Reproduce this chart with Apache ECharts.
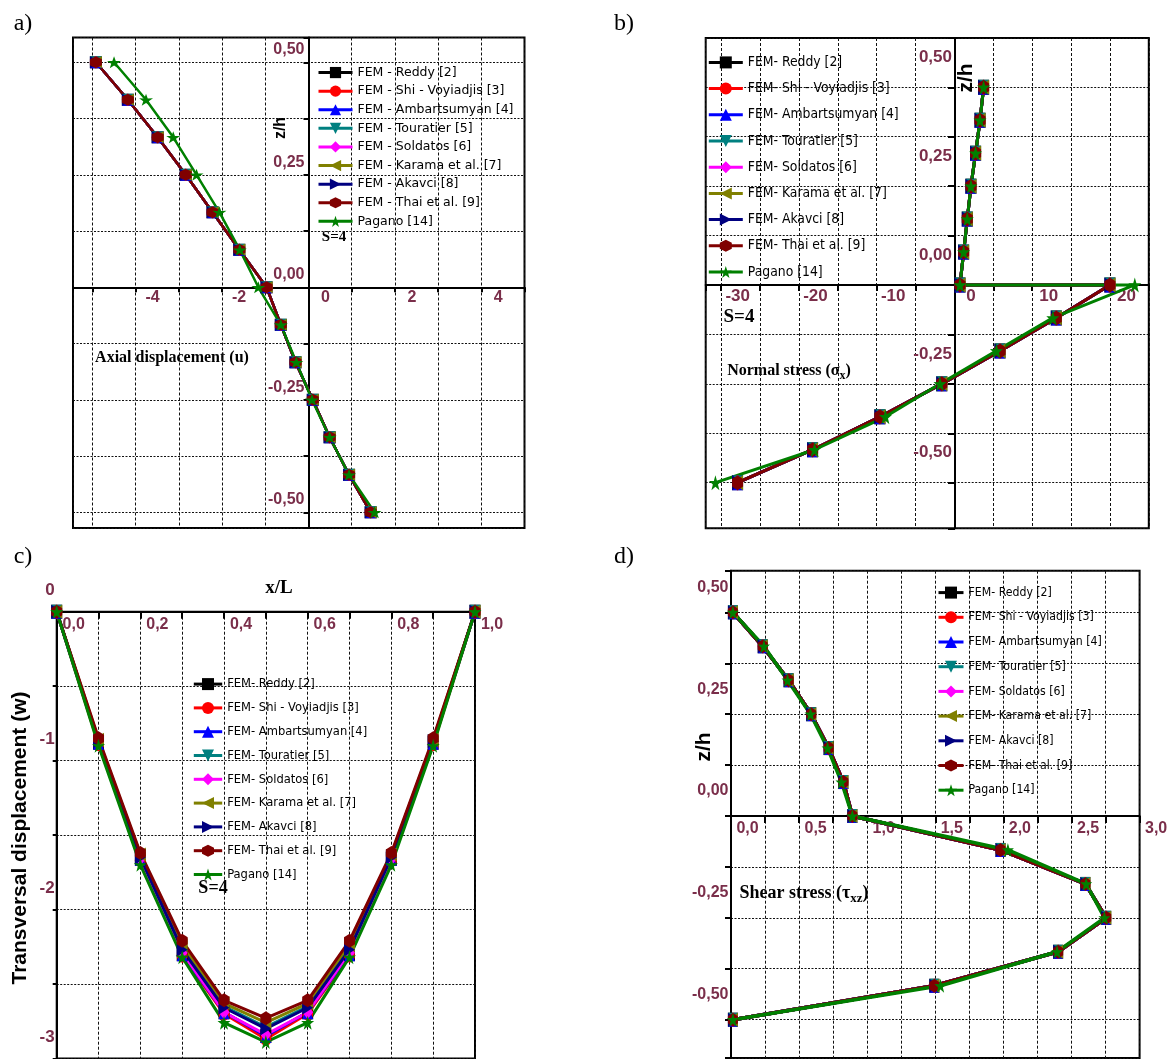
<!DOCTYPE html>
<html><head><meta charset="utf-8">
<script src="https://cdn.jsdelivr.net/npm/echarts@6/dist/echarts.min.js"></script>
<style>html,body{margin:0;padding:0;background:#fff}#c{width:1171px;height:1059px}</style>
</head><body><div id="c"></div>
<script>
// ---------------- data ----------------
const seriesNames = ['FEM - Reddy [2]', 'FEM - Shi - Voyiadjis [3]', 'FEM - Ambartsumyan [4]', 'FEM - Touratier [5]',
  'FEM - Soldatos [6]', 'FEM - Karama et al. [7]', 'FEM - Akavci [8]', 'FEM - Thai et al. [9]', 'Pagano [14]'];

// through-thickness positions z/h
const zLevels = [0.5, 0.4167, 0.3333, 0.25, 0.1667, 0.0833, 0, -0.0833, -0.1667, -0.25, -0.3333, -0.4167, -0.5];
const zLevelsB = [0.5, 0.4167, 0.3333, 0.25, 0.1667, 0.0833, 0, 0, -0.0833, -0.1667, -0.25, -0.3333, -0.4167, -0.5];

// a) axial displacement u
const uFEM    = [-4.92, -4.18, -3.49, -2.84, -2.22, -1.60, -0.97, -0.64, -0.30, 0.10, 0.49, 0.94, 1.44];
const uPagano = [-4.50, -3.76, -3.13, -2.59, -2.06, -1.59, -1.16, -0.64, -0.28, 0.08, 0.49, 0.94, 1.53];

// b) normal stress sigma_x
const sxFEM    = [3.75, 3.29, 2.72, 2.12, 1.65, 1.18, 0.71, 20.0, 13.1, 5.86, -1.63, -9.59, -18.25, -27.9];
const sxPagano = [3.75, 3.29, 2.72, 2.12, 1.65, 1.18, 0.71, 23.2, 12.65, 5.4, -1.86, -8.88, -18.0, -30.75];

// c) transversal displacement w along x/L
const xL = [0, 0.1, 0.2, 0.3, 0.4, 0.5, 0.6, 0.7, 0.8, 0.9, 1.0];
const wReddy    = [0, -0.88, -1.66, -2.30, -2.69, -2.85, -2.69, -2.30, -1.66, -0.88, 0];
const wShi      = [0, -0.89, -1.67, -2.31, -2.70, -2.87, -2.70, -2.31, -1.67, -0.89, 0];
const wAmbarts  = [0, -0.88, -1.66, -2.30, -2.69, -2.85, -2.69, -2.30, -1.66, -0.88, 0];
const wTouratier= [0, -0.87, -1.64, -2.26, -2.65, -2.79, -2.65, -2.26, -1.64, -0.87, 0];
const wSoldatos = [0, -0.88, -1.66, -2.29, -2.69, -2.84, -2.69, -2.29, -1.66, -0.88, 0];
const wKarama   = [0, -0.86, -1.63, -2.24, -2.63, -2.76, -2.63, -2.24, -1.63, -0.86, 0];
const wAkavci   = [0, -0.87, -1.65, -2.27, -2.66, -2.80, -2.66, -2.27, -1.65, -0.87, 0];
const wThai     = [0, -0.85, -1.62, -2.21, -2.61, -2.73, -2.61, -2.21, -1.62, -0.85, 0];
const wPagano   = [0, -0.90, -1.70, -2.32, -2.76, -2.89, -2.76, -2.32, -1.70, -0.90, 0];

// d) shear stress tau_xz
const txzFEM    = [0.014, 0.233, 0.423, 0.589, 0.717, 0.825, 0.891, 1.979, 2.602, 2.755, 2.402, 1.493, 0.014];
const txzPagano = [0.014, 0.242, 0.415, 0.584, 0.709, 0.811, 0.891, 2.033, 2.608, 2.742, 2.394, 1.538, 0.014];

// ---------------- styles ----------------
const colors = ['#000000', '#ff0000', '#0000ff', '#008080', '#ff00ff', '#808000', '#000080', '#800000', '#008000'];
const STAR = 'path://M50,0 L61.8,35.1 L98.1,34.5 L68.9,56.2 L79.4,90.5 L50,69.5 L20.6,90.5 L31.1,56.2 L1.9,34.5 L38.2,35.1 Z';
const symbols = ['rect', 'circle', 'triangle', 'path://M0,0 L10,0 L5,10 Z', 'diamond',
  'path://M0,5 L10,0 L10,10 Z', 'path://M10,5 L0,0 L0,10 Z',
  'path://M5,0 L9.33,2.5 L9.33,7.5 L5,10 L0.67,7.5 L0.67,2.5 Z', STAR];
const MAROON = '#7a2e4a';
const SANS = "'Liberation Sans', Arial, sans-serif";
const COND = "'DejaVu Sans Condensed', 'Liberation Sans', sans-serif";
const SERIF = "'Liberation Serif', 'Times New Roman', serif";
const DEJAVU = "'DejaVu Sans', Verdana, sans-serif";

const chart = echarts.init(document.getElementById('c'), null, {renderer: 'canvas'});

function near(v, step) { return Math.abs(v / step - Math.round(v / step)) < 1e-6; }
function wrap(s) { return s === '' ? '' : '{p|' + s + '}'; }
function zFmt(v8) { // v8 = z*8
  if (!near(v8, 2)) return '';
  return wrap((Math.round(v8) / 8).toFixed(2).replace('.', ','));
}
const vGrid = {show: true, lineStyle: {color: '#111', width: 1, type: [3, 2]}};
const hGrid = {show: true, lineStyle: {color: '#111', width: 1, type: [2, 1.5]}};
function axLine() { return {show: true, onZero: false, lineStyle: {color: '#000', width: 2}}; }
function tick(len, inside) { return {show: true, length: len, inside: !!inside, lineStyle: {color: '#000', width: 2}}; }
function lab(size, pad, extra) {
  const st = {color: MAROON, fontFamily: SANS, fontWeight: 'bold', fontSize: size};
  return Object.assign({}, st, {rich: {p: Object.assign({}, st, {padding: pad})}}, extra);
}

const grids = [
  {left: 73, top: 37.5, width: 451.5, height: 490.5},
  {left: 705.7, top: 38, width: 443.1, height: 490.3},
  {left: 56.7, top: 611.7, width: 418.3, height: 446.7},
  {left: 731, top: 570.7, width: 408.6, height: 487.3}
].map(g => Object.assign(g, {show: true, borderColor: '#000', borderWidth: 2, backgroundColor: 'transparent', containLabel: false, outerBoundsMode: 'none'}));

const xAxes = [
  {gridIndex: 0, type: 'value', min: -5.45, max: 5, splitNumber: 10, offset: -240.7, axisLine: axLine(), axisTick: tick(5), splitLine: vGrid,
   axisLabel: lab(16, [0, 0, 0, 34], {margin: 2, formatter: v => near(v, 2) ? wrap(String(Math.round(v))) : ''})},
  {gridIndex: 1, type: 'value', min: -32, max: 25, splitNumber: 11, offset: -243.3, axisLine: axLine(), axisTick: tick(6), splitLine: vGrid,
   axisLabel: lab(17, [0, 0, 0, 33], {margin: 3, formatter: v => near(v, 10) ? wrap(String(Math.round(v))) : ''})},
  {gridIndex: 2, type: 'value', position: 'top', min: 0, max: 1, interval: 0.1, axisLine: axLine(),
   axisTick: tick(7, true), splitLine: vGrid,
   axisLabel: lab(16, [0, 0, 0, 34], {inside: true, margin: 5, formatter: v => near(v, 0.2) ? wrap(v.toFixed(1).replace('.', ',')) : ''})},
  {gridIndex: 3, type: 'value', min: 0, max: 3, interval: 0.25, offset: -242, axisLine: axLine(), axisTick: tick(7), splitLine: vGrid,
   axisLabel: lab(16, [0, 0, 0, 33], {margin: 5, formatter: v => near(v, 0.5) ? wrap(v.toFixed(1).replace('.', ',')) : ''})}
];
const yAxes = [
  {gridIndex: 0, type: 'value', min: -4.279, max: 4.441, splitNumber: 9, offset: -235.5, axisLine: axLine(), axisTick: tick(5), splitLine: hGrid,
   axisLabel: lab(16, [0, 0, 25, 0], {margin: 4, formatter: zFmt})},
  {gridIndex: 1, type: 'value', min: -4.923, max: 4.997, splitNumber: 10, offset: -249.3, axisLine: axLine(), axisTick: tick(7), splitLine: hGrid,
   axisLabel: lab(17, [0, 0, 60, 0], {margin: 3, formatter: zFmt})},
  {gridIndex: 2, type: 'value', min: -3, max: 0, interval: 0.5, axisLine: axLine(), axisTick: tick(4), splitLine: hGrid,
   axisLabel: lab(17, [0, 0, 42, 0], {margin: 2, formatter: v => near(v, 1) ? wrap(String(Math.round(v))) : ''})},
  {gridIndex: 3, type: 'value', min: -4.753, max: 4.818, splitNumber: 10, axisLine: axLine(), axisTick: tick(6), splitLine: hGrid,
   axisLabel: lab(16, [0, 0, 50, 0], {margin: 2.5, formatter: zFmt})}
];

const panelStyle = [
  {size: [12, 12], lw: 2.5},
  {size: [11, 15], lw: 3},
  {size: [11, 14], lw: 3},
  {size: [10, 14], lw: 3.5}
];
function mk(p, i, data) {
  return {type: 'line', name: seriesNames[i], xAxisIndex: p, yAxisIndex: p, data: data,
    symbol: symbols[i], symbolSize: i === 8 ? [panelStyle[p].size[0] + 2, panelStyle[p].size[1]] : panelStyle[p].size,
    showSymbol: true, clip: false, animation: false,
    itemStyle: {color: colors[i]}, lineStyle: {color: colors[i], width: panelStyle[p].lw}, emphasis: {disabled: true}};
}
const series = [];
for (let i = 0; i < 9; i++) {
  const u = i === 8 ? uPagano : uFEM;
  series.push(mk(0, i, zLevels.map((z, k) => [u[k], z * 8])));
}
for (let i = 0; i < 9; i++) {
  const s = i === 8 ? sxPagano : sxFEM;
  series.push(mk(1, i, zLevelsB.map((z, k) => [s[k], z * 8])));
}
const wAll = [wReddy, wShi, wAmbarts, wTouratier, wSoldatos, wKarama, wAkavci, wThai, wPagano];
for (let i = 0; i < 9; i++) {
  series.push(mk(2, i, xL.map((x, k) => [x, wAll[i][k]])));
}
for (let i = 0; i < 9; i++) {
  const t = i === 8 ? txzPagano : txzFEM;
  series.push(mk(3, i, zLevels.map((z, k) => [t[k], z * 8])));
}

function legend(left, rowCenter, font, size, ih, spacing, iw, shortName) {
  return {orient: 'vertical', left: left, top: rowCenter - size / 2, padding: 0, itemWidth: iw, itemHeight: ih, itemGap: spacing - size,
    data: seriesNames, selectedMode: false, lineStyle: {width: 3},
    formatter: shortName ? (n => n.replace('FEM - ', 'FEM- ')) : (n => n),
    textStyle: {fontFamily: font, fontSize: size, color: '#000'}};
}
const legends = [
  legend(317, 72.3, DEJAVU, 12.5, 14, 18.1, 34, false),
  legend(707.3, 62.3, COND, 13.8, 15, 26, 34, true),
  legend(192.3, 684, COND, 12.8, 15, 23.6, 28.4, true),
  legend(937, 592.7, COND, 12.2, 15, 24.9, 25, true)
];

function txt(x, y, text, font, size, weight, rot, extra) {
  return {type: 'text', x: x, y: y, rotation: rot || 0, silent: true,
    style: Object.assign({text: text, fontFamily: font, fontSize: size, fontWeight: weight || 'normal', fill: '#000',
      align: 'center', verticalAlign: 'middle'}, extra || {})};
}
const graphics = [
  txt(23, 24, 'a)', SERIF, 24),
  txt(624, 24, 'b)', SERIF, 24),
  txt(23, 557, 'c)', SERIF, 24),
  txt(624, 557, 'd)', SERIF, 24),
  txt(281, 128, 'z/h', SANS, 16, 'bold', Math.PI / 2),
  txt(172, 358, 'Axial displacement (u)', SERIF, 16, 'bold'),
  txt(334, 237, 'S=4', SERIF, 15, 'bold'),
  txt(966, 78, 'z/h', SANS, 21, 'bold', Math.PI / 2),
  txt(739, 317, 'S=4', SERIF, 19, 'bold'),
  txt(789, 371, '{a|Normal stress (σ}{s|x}{a|)}', SERIF, 16, 'bold', 0,
    {rich: {a: {fontFamily: SERIF, fontSize: 16, fontWeight: 'bold'}, s: {fontFamily: SERIF, fontSize: 12, fontWeight: 'bold', padding: [10, 0, 0, 0]}}}),
  txt(279, 588, 'x/L', SERIF, 19, 'bold'),
  txt(20, 838, 'Transversal displacement (w)', SANS, 21, 'bold', Math.PI / 2),
  txt(213, 888, 'S=4', SERIF, 18, 'bold'),
  txt(704, 747, 'z/h', SANS, 21, 'bold', Math.PI / 2),
  txt(804, 893, '{a|Shear stress (τ}{s|xz}{a|)}', SERIF, 18, 'bold', 0,
    {rich: {a: {fontFamily: SERIF, fontSize: 18, fontWeight: 'bold'}, s: {fontFamily: SERIF, fontSize: 13, fontWeight: 'bold', padding: [11, 0, 0, 0]}}})
];

chart.setOption({
  backgroundColor: '#fff',
  animation: false,
  grid: grids, xAxis: xAxes, yAxis: yAxes, series: series, legend: legends, graphic: graphics
});
</script></body></html>
